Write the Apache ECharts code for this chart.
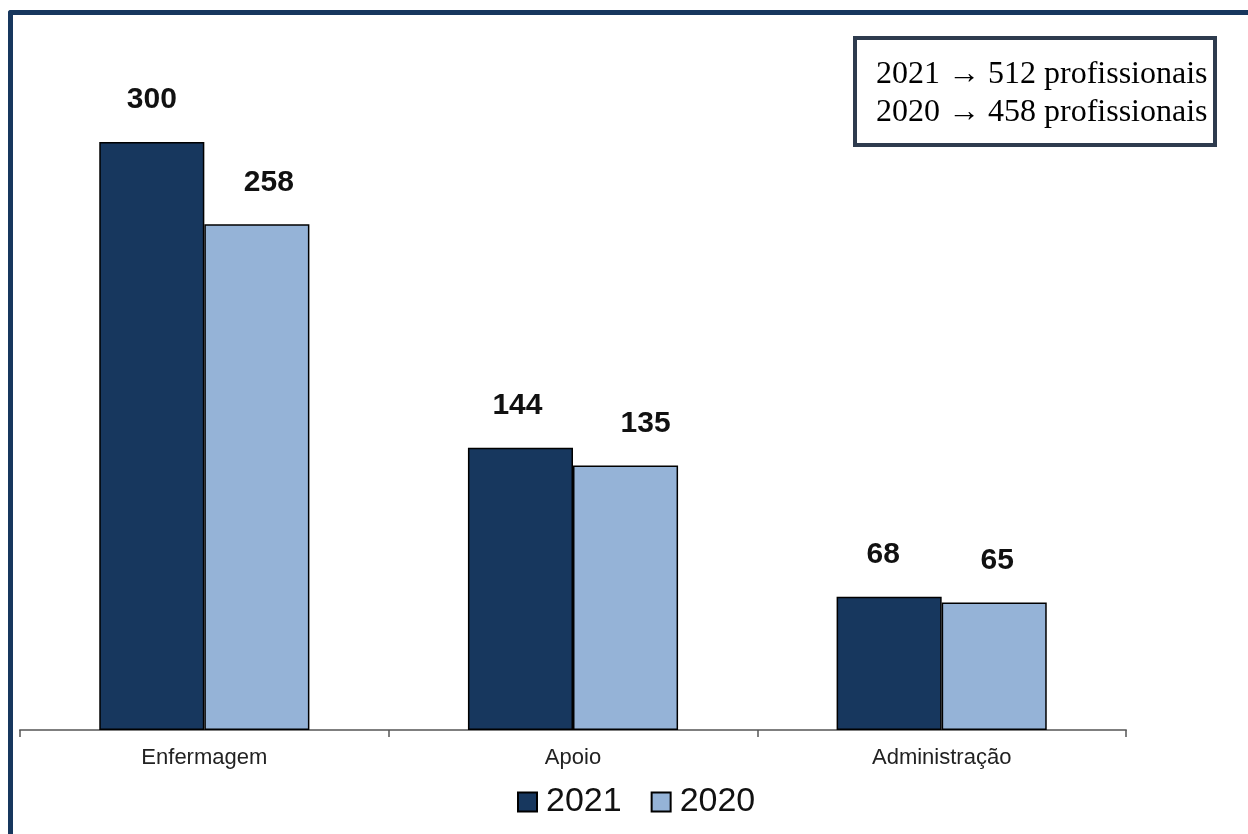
<!DOCTYPE html>
<html>
<head>
<meta charset="utf-8">
<script src="https://cdn.jsdelivr.net/npm/echarts@6/dist/echarts.min.js"></script>
<style>
html,body{margin:0;padding:0;background:#fff;overflow:hidden;}
#frame{position:absolute;left:8px;top:10px;width:1260px;height:840px;border-left:5px solid #17375E;border-top:5px solid #17375E;border-top-left-radius:3px;box-sizing:border-box;pointer-events:none;}
#chart{position:absolute;left:0;top:0;width:1248px;height:834px;}
</style>
</head>
<body>
<div id="chart"></div>
<div id="frame"></div>
<script>
const categories = ['Enfermagem', 'Apoio', 'Administração'];
const values2021 = [300, 144, 68];
const values2020 = [258, 135, 65];
const seriesNames = ['2021', '2020'];
const noteLines = ['2021 \u2192 512 profissionais', '2020 \u2192 458 profissionais'];

// small horizontal nudges of the value labels, as placed in the original
const labelShift2021 = [0, -3, -6];
const labelShift2020 = [12, 20, 3];

const chart = echarts.init(document.getElementById('chart'));
const labelStyle = {
  show: true, position: 'top', distance: 27,
  fontFamily: 'Liberation Sans, Arial', fontWeight: 'bold', fontSize: 30, color: '#111'
};
function build(values, shifts) {
  return values.map((v, i) => ({ value: v, label: { offset: [shifts[i], 0] } }));
}
chart.setOption({
  backgroundColor: '#fff',
  animation: false,
  grid: { left: 20, right: 122, top: 44, bottom: 104 },
  xAxis: {
    type: 'category', data: categories,
    axisLine: { lineStyle: { color: '#7f7f7f', width: 2 } },
    axisTick: { show: true, length: 7, lineStyle: { color: '#555', width: 1.5 } },
    axisLabel: { fontFamily: 'Liberation Sans, Arial', fontSize: 22, color: '#222', margin: 17 }
  },
  yAxis: {
    type: 'value', min: 0, max: 350, show: false,
    splitLine: { show: false }
  },
  legend: {
    bottom: 10, left: 512, icon: 'rect', itemWidth: 19, itemHeight: 19, itemGap: 29,
    textStyle: { fontFamily: 'Liberation Sans, Arial', fontSize: 34, color: '#111', padding: [0, 0, 0, 4] },
    data: seriesNames
  },
  series: [
    { name: seriesNames[0], type: 'bar', data: build(values2021, labelShift2021), barWidth: '28.5%', barGap: '0%',
      itemStyle: { color: '#17375E', borderColor: '#000', borderWidth: 1.5 }, label: labelStyle },
    { name: seriesNames[1], type: 'bar', data: build(values2020, labelShift2020), barWidth: '28.5%',
      itemStyle: { color: '#95B3D7', borderColor: '#000', borderWidth: 1.5 }, label: labelStyle }
  ],
  graphic: [
    { type: 'rect', shape: { x: 855, y: 38, width: 360, height: 107 },
      style: { fill: '#fff', stroke: '#2E3B4E', lineWidth: 4 } },
    { type: 'text', left: 876, top: 56,
      style: { text: noteLines.join('\n'), font: '32px "Liberation Serif", "Times New Roman", serif',
               lineHeight: 38, fill: '#000' } }
  ]
});
</script>
</body>
</html>
